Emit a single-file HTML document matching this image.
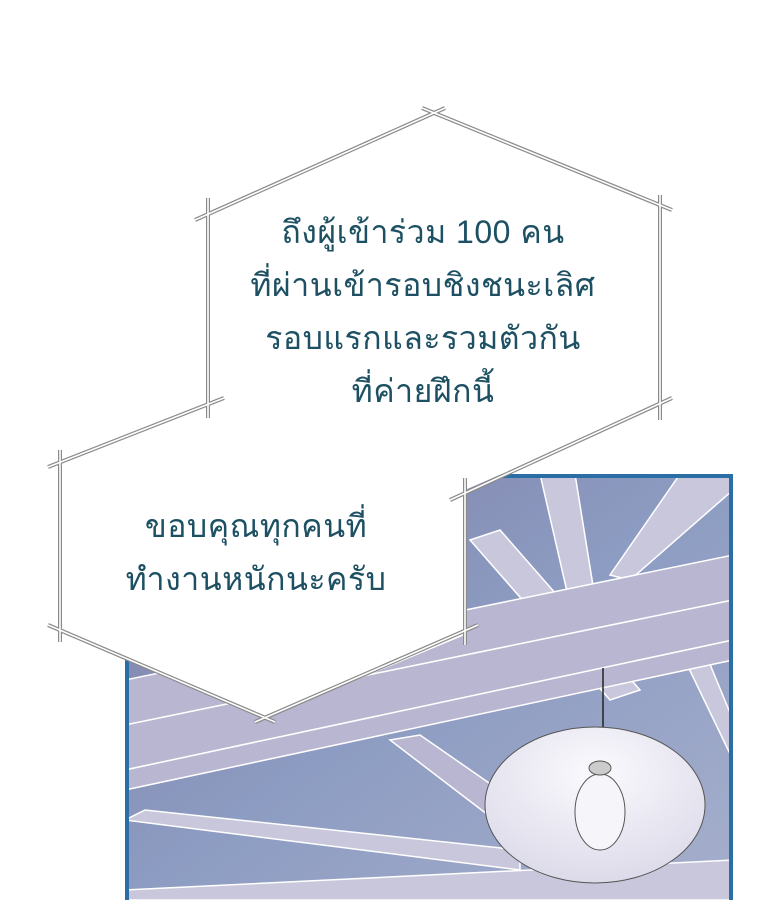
<!DOCTYPE html>
<html><head><meta charset="utf-8"><style>
html,body{margin:0;padding:0;background:#fff;}
body{width:760px;height:900px;position:relative;overflow:hidden;}
svg{position:absolute;left:0;top:0;}
.t{position:absolute;color:#1d5062;font-family:"Liberation Sans","DejaVu Sans",sans-serif;font-size:32px;text-align:center;line-height:53px;white-space:nowrap;letter-spacing:0.5px;}
</style></head><body>
<svg width="760" height="900" viewBox="0 0 760 900">
<defs>
<linearGradient id="sky" x1="0" y1="0" x2="1" y2="1">
<stop offset="0" stop-color="#7e7fa8"/><stop offset="0.5" stop-color="#8d9cc2"/><stop offset="1" stop-color="#a6afcc"/>
</linearGradient>
<radialGradient id="lamp" cx="0.5" cy="0.3" r="0.8">
<stop offset="0" stop-color="#fafafe"/><stop offset="1" stop-color="#d8d6e6"/>
</radialGradient>
</defs>
<rect x="125" y="474" width="608" height="426" fill="url(#sky)"/>
<g fill="#c9c7dc" stroke="#fff" stroke-width="1.5">
<polygon points="540,474 575,474 605,660 585,670"/>
<polygon points="680,474 733,474 733,490 630,580 610,575"/>
<polygon points="470,540 500,530 640,690 610,700"/>
<polygon points="125,890 733,860 733,900 125,900"/>
<polygon points="680,650 700,640 733,720 733,760"/>
<polygon points="125,820 145,810 520,850 520,870"/>
</g>
<g fill="#b8b6d0" stroke="#fff" stroke-width="1.5">
<polygon points="125,680 733,555 733,600 125,725"/>
<polygon points="125,725 733,600 733,640 125,770"/>
<polygon points="125,770 733,640 733,660 125,790"/>
<polygon points="390,740 420,735 600,860 560,870"/>
</g>
<rect x="127" y="476" width="604" height="428" fill="none" stroke="#2b6ea6" stroke-width="4"/>
<line x1="603" y1="668" x2="603" y2="745" stroke="#222" stroke-width="1.5"/>
<ellipse cx="595" cy="805" rx="110" ry="78" fill="url(#lamp)" stroke="#555" stroke-width="1"/>
<ellipse cx="600" cy="812" rx="25" ry="38" fill="#f6f6fa" stroke="#555" stroke-width="1"/>
<ellipse cx="600" cy="768" rx="11" ry="7" fill="#ccc" stroke="#555" stroke-width="1"/>
<polygon points="433,113 660,205 660,405 465,490 465,635 265,718 60,632 60,462 208,405 208,210" fill="#fff"/>
<g stroke="#8a8a8a" stroke-width="4" fill="none">
<line x1="195" y1="220" x2="445" y2="108"/>
<line x1="422" y1="108" x2="672" y2="210"/>
<line x1="660" y1="195" x2="660" y2="420"/>
<line x1="672" y1="398" x2="450" y2="500"/>
<line x1="465" y1="478" x2="465" y2="645"/>
<line x1="478" y1="625" x2="255" y2="722"/>
<line x1="275" y1="722" x2="48" y2="625"/>
<line x1="60" y1="450" x2="60" y2="642"/>
<line x1="48" y1="467" x2="224" y2="398"/>
<line x1="208" y1="198" x2="208" y2="418"/>
</g>
<g stroke="#fff" stroke-width="1.6" fill="none">
<line x1="195" y1="220" x2="445" y2="108"/>
<line x1="422" y1="108" x2="672" y2="210"/>
<line x1="660" y1="195" x2="660" y2="420"/>
<line x1="672" y1="398" x2="450" y2="500"/>
<line x1="465" y1="478" x2="465" y2="645"/>
<line x1="478" y1="625" x2="255" y2="722"/>
<line x1="275" y1="722" x2="48" y2="625"/>
<line x1="60" y1="450" x2="60" y2="642"/>
<line x1="48" y1="467" x2="224" y2="398"/>
<line x1="208" y1="198" x2="208" y2="418"/>
</g>
</svg>
<div class="t" style="left:173px;top:206px;width:500px;">ถึงผู้เข้าร่วม 100 คน<br>ที่ผ่านเข้ารอบชิงชนะเลิศ<br>รอบแรกและรวมตัวกัน<br>ที่ค่ายฝึกนี้</div>
<div class="t" style="left:6px;top:500px;width:500px;">ขอบคุณทุกคนที่<br>ทำงานหนักนะครับ</div>
</body></html>
